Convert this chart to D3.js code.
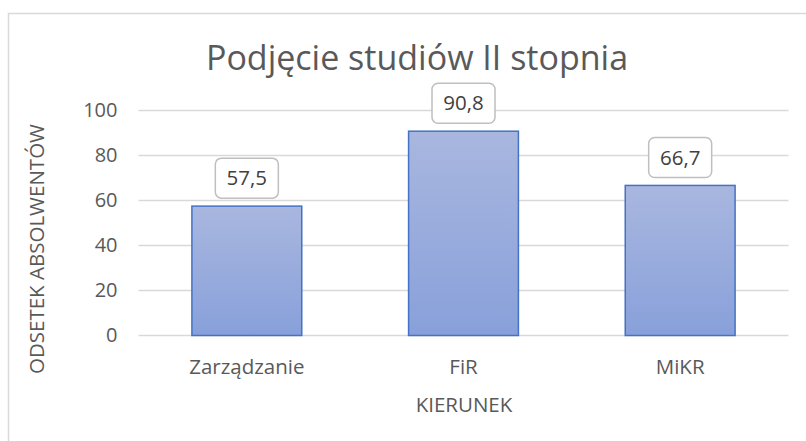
<!DOCTYPE html>
<html><head><meta charset="utf-8">
<script src="https://cdn.jsdelivr.net/npm/d3@7"></script>
<style>body{margin:0;background:#fff}svg{display:block}</style>
</head><body>
<script>
const categories = ["Zarządzanie", "FiR", "MiKR"];
const values = [57.5, 90.8, 66.7];
const valueLabels = ["57,5", "90,8", "66,7"];
const yTicks = [0, 20, 40, 60, 80, 100];
const title = "Podjęcie studiów II stopnia";
const xTitle = "KIERUNEK";
const yTitle = "ODSETEK ABSOLWENTÓW";

(function(){
const W = 806, H = 441;
const font = "'Open Sans', sans-serif";
const svg = d3.select("body").append("svg").attr("width", W).attr("height", H);

const defs = svg.append("defs");
const grad = defs.append("linearGradient").attr("id","bg").attr("x1",0).attr("y1",0).attr("x2",0).attr("y2",1);
grad.append("stop").attr("offset","0%").attr("stop-color","#a9b7df");
grad.append("stop").attr("offset","100%").attr("stop-color","#88a0da");

svg.append("rect").attr("x",8.5).attr("y",13.5).attr("width",W+10).attr("height",H+10)
  .attr("fill","#fff").attr("stroke","#d9d9d9").attr("stroke-width",1.5);

const pLeft = 138.5, pRight = 788.5, pTop = 110.5, pBottom = 335.5;
const x = d3.scaleBand().domain(categories).range([pLeft, pRight]).paddingInner(0.493).paddingOuter(0.2465);
const y = d3.scaleLinear().domain([0, 100]).range([pBottom, pTop]);

svg.append("g").selectAll("line").data(yTicks).join("line")
  .attr("x1", pLeft).attr("x2", pRight)
  .attr("y1", d => y(d)).attr("y2", d => y(d))
  .attr("stroke", "#d9d9d9").attr("stroke-width", 1.3);

const yAxis = svg.append("g").attr("transform", `translate(${pLeft},0)`)
  .call(d3.axisLeft(y).tickValues(yTicks).tickSize(0).tickPadding(21));
yAxis.select(".domain").remove();
yAxis.selectAll("text").attr("font-family", font).attr("font-size", 20).attr("fill", "#595959");

const xAxis = svg.append("g").attr("transform", `translate(0,${pBottom})`)
  .call(d3.axisBottom(x).tickSize(0).tickPadding(24));
xAxis.select(".domain").remove();
xAxis.selectAll("text").attr("font-family", font).attr("font-size", 20.5).attr("fill", "#595959");

svg.append("g").selectAll("rect").data(values).join("rect")
  .attr("x", (d,i) => x(categories[i]))
  .attr("y", d => y(d))
  .attr("width", x.bandwidth())
  .attr("height", d => pBottom - y(d))
  .attr("fill", "url(#bg)")
  .attr("stroke", "#4472c4").attr("stroke-width", 1.5);

const lg = svg.append("g").selectAll("g").data(values).join("g")
  .attr("transform", (d,i) => `translate(${x(categories[i]) + x.bandwidth()/2},${y(d) - 8})`);
lg.append("rect").attr("x", -31.5).attr("y", -40).attr("width", 63).attr("height", 40)
  .attr("rx", 6).attr("fill", "#fff").attr("stroke", "#bfbfbf").attr("stroke-width", 1.5);
lg.append("text").attr("text-anchor","middle").attr("y", -20).attr("dy","0.35em")
  .attr("font-family", font).attr("font-size", 20.5).attr("fill", "#404040")
  .text((d,i) => valueLabels[i]);

svg.append("text").attr("x", 417).attr("y", 70).attr("text-anchor","middle")
  .attr("font-family", font).attr("font-size", 34).attr("fill", "#595959").text(title);

svg.append("text").attr("x", 464).attr("y", 412).attr("text-anchor","middle")
  .attr("font-family", font).attr("font-size", 20.5).attr("fill", "#595959").text(xTitle);
svg.append("text").attr("transform", `translate(37,249) rotate(-90)`).attr("dy","0.35em")
  .attr("text-anchor","middle")
  .attr("font-family", font).attr("font-size", 20.5).attr("fill", "#595959").text(yTitle);
})();
</script>
</body></html>
